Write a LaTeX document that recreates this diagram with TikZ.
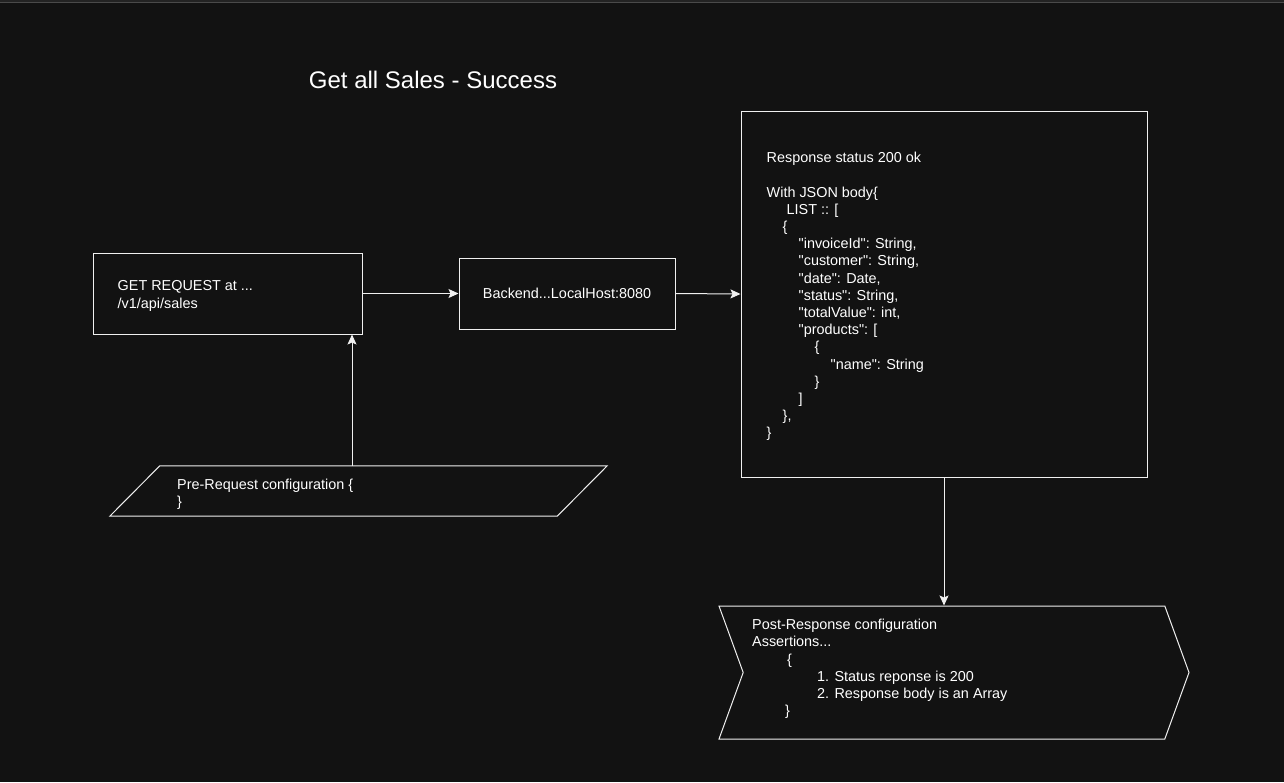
\documentclass[tikz,border=0pt]{standalone}
\usepackage{fontspec}
\setmainfont{Liberation Sans}[Ligatures=TeXOff]
\usetikzlibrary{arrows.meta,shapes.symbols}
\definecolor{bgdark}{HTML}{121212}
\definecolor{edge}{HTML}{F0F0F0}
\definecolor{stripe}{HTML}{232323}
\definecolor{stripeline}{HTML}{4A4A4A}

\begin{document}
\begin{tikzpicture}[x=1pt,y=-1pt,
  box/.style={draw=edge,line width=1pt,inner sep=0pt},
  txt/.style={text=white,font=\fontsize{14.4}{17.2}\selectfont,align=left,inner sep=0pt},
  arr/.style={draw=edge,line width=1pt,-{Stealth[length=10pt,width=9pt,inset=2pt]}}]

\useasboundingbox (0,0) rectangle (1284,782);
\fill[bgdark] (0,0) rectangle (1284,782);
\fill[stripe] (0,0) rectangle (1284,2);
\draw[stripeline,line width=1pt] (0,2.5) -- (1284,2.5);

\node[text=white,font=\fontsize{24}{28}\selectfont] (title) at (433,79.5) {Get all Sales - Success};

\node[box,minimum width=269pt,minimum height=81pt] (get) at (227.5,293.5) {};
\node[txt,anchor=west] (gettext) at ([xshift=25pt,yshift=-2.5pt]get.west) {GET REQUEST at ...\\/v1/api/sales};

\node[box,txt,draw=edge,minimum width=216pt,minimum height=71pt,text depth=0pt] (backend) at (567,293.5) {Backend...LocalHost:8080};

\node[box,minimum width=406pt,minimum height=366pt] (resp) at (944,294) {};
\node[txt,anchor=west] (resptext) at ([xshift=26pt,yshift=-2.5pt]resp.west) {Response status 200 ok\\[17.2pt]
With JSON body\{\\
\hspace*{20pt}LIST :: [\\
\hspace*{16pt}\{\\
\hspace*{32pt}"invoiceId": String,\\
\hspace*{32pt}"customer": String,\\
\hspace*{32pt}"date": Date,\\
\hspace*{32pt}"status": String,\\
\hspace*{32pt}"totalValue": int,\\
\hspace*{32pt}"products": [\\
\hspace*{48pt}\{\\
\hspace*{64pt}"name": String\\
\hspace*{48pt}\}\\
\hspace*{32pt}]\\
\hspace*{16pt}\},\\
\}};

% parallelogram, slant of 50
\node[inner sep=0pt,minimum width=497pt,minimum height=50pt] (prereq) at (358.5,491) {};
\draw[edge,line width=1pt] (prereq.south west) -- ([xshift=50pt]prereq.north west)
  -- (prereq.north east) -- ([xshift=-50pt]prereq.south east) -- cycle;
\node[txt,anchor=west] (pretext) at (177,494.5) {Pre-Request configuration \{\\\}};

\node[box,signal,signal from=west,signal to=east,signal pointer angle=140,
  minimum width=470pt,minimum height=133pt] (post) at (954,672.5) {};
\node[txt,anchor=west] (posttext) at (752,669) {Post-Response configuration\\
Assertions...\\
\hspace*{35pt}\{\\
\hspace*{65pt}1. Status reponse is 200\\
\hspace*{65pt}2. Response body is an Array\\
\hspace*{33pt}\}};

\draw[arr] (get.east) -- (backend.west);
\draw[arr] (backend.east) -- (resp.west);
\draw[arr] (resp.south) -- (resp.south |- post.north);
\draw[arr] ([xshift=-6.5pt]prereq.north) -- ([xshift=-6.5pt]prereq.north |- get.south);
\end{tikzpicture}
\end{document}
